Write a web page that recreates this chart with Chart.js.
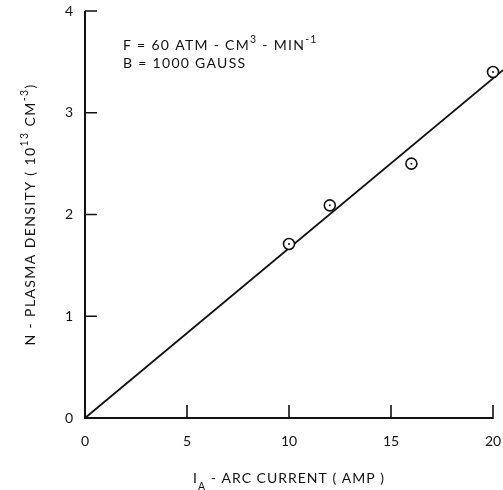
<!DOCTYPE html>
<html>
<head>
<meta charset="utf-8">
<script src="https://cdn.jsdelivr.net/npm/chart.js@4.4.1/dist/chart.umd.min.js"></script>
<style>
  html, body { margin: 0; padding: 0; background: #fff; }
  #wrap { width: 503px; height: 490px; position: relative; }
</style>
</head>
<body>
<div id="wrap"><canvas id="density-chart"></canvas></div>
<script>
(function () {
  "use strict";

  // arc current (amp) and measured plasma density (1e13 cm^-3)
  var currentAmp = [10, 12, 16, 20];
  var densityMeasured = [1.71, 2.09, 2.50, 3.40];

  // straight-line fit through the origin
  var fitCurrent = [0, 20.5];
  var fitDensity = [0, 3.42];

  var xTicks = [0, 5, 10, 15, 20];
  var yTicks = [0, 1, 2, 3, 4];

  var FONT = "Lato, 'Open Sans', sans-serif";
  var INK = "#111";

  function toPoints(xs, ys) {
    return xs.map(function (x, i) { return { x: x, y: ys[i] }; });
  }

  // draws a run of text pieces, some raised or lowered
  function drawRich(ctx, parts, x, y, size) {
    var cx = x;
    parts.forEach(function (p) {
      var s = p.sup || p.sub ? size * 0.75 : size;
      ctx.font = s + "px " + FONT;
      var dy = p.sup ? -size * 0.5 : (p.sub ? size * 0.5 : 0);
      ctx.fillText(p.t, cx, y + dy);
      cx += ctx.measureText(p.t).width;
    });
    return cx - x;
  }

  function richWidth(ctx, parts, size) {
    var w = 0;
    parts.forEach(function (p) {
      var s = p.sup || p.sub ? size * 0.75 : size;
      ctx.font = s + "px " + FONT;
      w += ctx.measureText(p.t).width;
    });
    return w;
  }

  // keep the plot box fixed: drop the label overhang padding
  function fixBox(size, key) {
    return function (scale) {
      scale[key] = size;
      scale.paddingTop = 0;
      scale.paddingBottom = 0;
      scale.paddingLeft = 0;
      scale.paddingRight = 0;
    };
  }

  var xTitle = [{ t: "I" }, { t: "A", sub: true }, { t: " - ARC CURRENT ( AMP )" }];
  var yTitle = [{ t: "N - PLASMA DENSITY ( 10" }, { t: "13", sup: true }, { t: " CM" }, { t: "-3", sup: true }, { t: ")" }];
  var noteFlow = [{ t: "F = 60 ATM - CM" }, { t: "3", sup: true }, { t: " - MIN" }, { t: "-1", sup: true }];
  var noteField = [{ t: "B = 1000 GAUSS" }];

  var decorPlugin = {
    id: "decor",
    afterDraw: function (chart) {
      var ctx = chart.ctx;
      var area = chart.chartArea;
      var xs = chart.scales.x;
      var ys = chart.scales.y;
      ctx.save();
      ctx.strokeStyle = INK;
      ctx.fillStyle = INK;

      // axis spines
      ctx.lineWidth = 2;
      ctx.beginPath();
      ctx.moveTo(area.left, area.top);
      ctx.lineTo(area.left, area.bottom);
      ctx.lineTo(xs.getPixelForValue(20), area.bottom);
      ctx.stroke();

      // inward tick marks
      ctx.lineWidth = 1.6;
      ctx.beginPath();
      xTicks.forEach(function (v) {
        var px = xs.getPixelForValue(v);
        if (v === 0) return;
        ctx.moveTo(px, area.bottom + 1);
        ctx.lineTo(px, area.bottom - 13);
      });
      yTicks.forEach(function (v) {
        var py = ys.getPixelForValue(v);
        if (v === 0) return;
        ctx.moveTo(area.left, py);
        ctx.lineTo(area.left + 12, py);
      });
      ctx.stroke();

      ctx.textBaseline = "alphabetic";
      ctx.textAlign = "left";
      ctx.letterSpacing = "1px";

      // x title
      var xw = richWidth(ctx, xTitle, 14);
      drawRich(ctx, xTitle, (area.left + area.right) / 2 - xw / 2, 483, 14);

      // y title, rotated
      ctx.save();
      ctx.translate(35, (area.top + area.bottom) / 2);
      ctx.rotate(-Math.PI / 2);
      ctx.letterSpacing = "1.4px";
      var yw = richWidth(ctx, yTitle, 14);
      drawRich(ctx, yTitle, -yw / 2, 0, 14);
      ctx.restore();

      // run conditions
      ctx.letterSpacing = "1.3px";
      drawRich(ctx, noteFlow, 123, 50, 14);
      drawRich(ctx, noteField, 123, 68, 14);

      ctx.restore();
    }
  };

  var ctx = document.getElementById("density-chart");
  new Chart(ctx, {
    type: "scatter",
    data: {
      datasets: [
        {
          type: "line",
          label: "fit",
          data: toPoints(fitCurrent, fitDensity),
          borderColor: INK,
          borderWidth: 1.8,
          pointRadius: 0,
          fill: false,
          clip: false,
          order: 3
        },
        {
          label: "measured",
          data: toPoints(currentAmp, densityMeasured),
          pointStyle: "circle",
          pointRadius: 5.5,
          pointBorderWidth: 1.6,
          pointBorderColor: INK,
          pointBackgroundColor: "#fff",
          clip: false,
          order: 2
        },
        {
          label: "measured-centre",
          data: toPoints(currentAmp, densityMeasured),
          pointStyle: "circle",
          pointRadius: 1,
          pointBorderWidth: 0,
          pointBackgroundColor: INK,
          clip: false,
          order: 1
        }
      ]
    },
    options: {
      responsive: true,
      maintainAspectRatio: false,
      animation: false,
      events: [],
      layout: { padding: { left: 0, top: 11, right: 10, bottom: 0 } },
      plugins: {
        legend: { display: false },
        tooltip: { enabled: false }
      },
      scales: {
        x: {
          type: "linear",
          min: 0,
          max: 20,
          afterFit: fixBox(72, "height"),
          afterBuildTicks: function (scale) {
            scale.ticks = xTicks.map(function (v) { return { value: v }; });
          },
          border: { display: false },
          grid: { display: false, drawTicks: false },
          ticks: {
            color: INK,
            padding: 15,
            font: { family: FONT, size: 14 }
          }
        },
        y: {
          type: "linear",
          min: 0,
          max: 4,
          afterFit: fixBox(85, "width"),
          afterBuildTicks: function (scale) {
            scale.ticks = yTicks.map(function (v) { return { value: v }; });
          },
          border: { display: false },
          grid: { display: false, drawTicks: false },
          ticks: {
            color: INK,
            padding: 12,
            font: { family: FONT, size: 14 }
          }
        }
      }
    },
    plugins: [decorPlugin]
  });
})();
</script>
</body>
</html>
